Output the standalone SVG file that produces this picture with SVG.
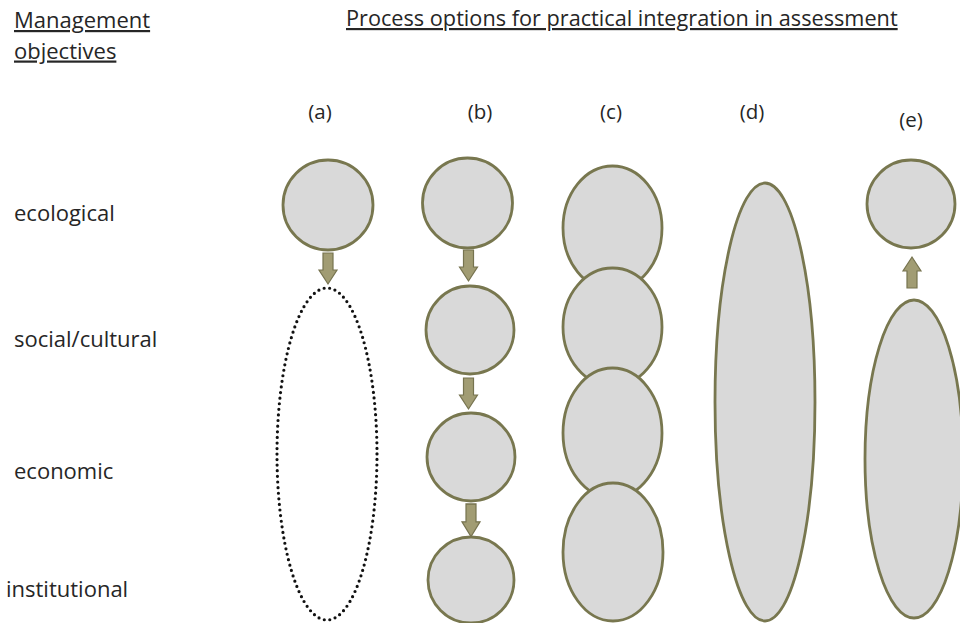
<svg xmlns="http://www.w3.org/2000/svg" width="960" height="623" viewBox="0 0 960 623">
<style>
  text { font-family: "Open Sans", "Liberation Sans", sans-serif; fill: #262626; }
  .hdr { font-size: 22px; text-decoration: underline; }
  .ttl { font-size: 21.7px; text-decoration: underline; }
  .lbl { font-size: 22px; }
  .opt { font-size: 20.5px; text-anchor: middle; }
  .shape { fill: #d9d9d9; stroke: #78774f; stroke-width: 2.8; }
  .dotted { fill: none; stroke: #111; stroke-width: 3.2; stroke-linecap: round; stroke-dasharray: 0 5.6; }
  .arrow { fill: #a19c73; stroke: #76734f; stroke-width: 1.2; }
</style>
<defs>
  <path id="arrDown" d="M-5,0 H5 V17 H9 L0,31 L-9,17 H-5 Z"/>
</defs>
<rect width="960" height="623" fill="#ffffff"/>

<g id="headers">
  <text class="hdr" x="14" y="28">Management</text>
  <text class="hdr" x="14" y="58.5">objectives</text>
  <text class="ttl" x="346" y="26">Process options for practical integration in assessment</text>
</g>

<g id="options">
  <text class="opt" x="320" y="119">(a)</text>
  <text class="opt" x="480" y="119">(b)</text>
  <text class="opt" x="611" y="119">(c)</text>
  <text class="opt" x="752" y="119">(d)</text>
  <text class="opt" x="911" y="127">(e)</text>
</g>

<g id="rows">
  <text class="lbl" x="14" y="221">ecological</text>
  <text class="lbl" x="14" y="347">social/cultural</text>
  <text class="lbl" x="14" y="479">economic</text>
  <text class="lbl" x="6" y="597">institutional</text>
</g>

<g id="option-a">
  <g id="a-eco"><circle class="shape" cx="328" cy="205" r="45"/></g>
  <g id="a-rest"><ellipse class="dotted" cx="327" cy="454" rx="50" ry="166"/></g>
</g>

<g id="option-b">
  <g id="b-eco"><circle class="shape" cx="467.5" cy="203" r="45"/></g>
  <g id="b-soc"><circle class="shape" cx="470" cy="330" r="44"/></g>
  <g id="b-econ"><circle class="shape" cx="471" cy="457" r="44"/></g>
  <g id="b-inst"><circle class="shape" cx="471" cy="580" r="43"/></g>
</g>

<g id="option-c">
  <g id="c-eco"><ellipse class="shape" cx="612.5" cy="228" rx="49.5" ry="62"/></g>
  <g id="c-soc"><ellipse class="shape" cx="612.5" cy="327" rx="49.5" ry="59"/></g>
  <g id="c-econ"><ellipse class="shape" cx="612.5" cy="433" rx="49.5" ry="65"/></g>
  <g id="c-inst"><ellipse class="shape" cx="613" cy="552" rx="50" ry="69"/></g>
</g>

<g id="option-d">
  <g id="d-all"><ellipse class="shape" cx="765" cy="402" rx="50" ry="219"/></g>
</g>

<g id="option-e">
  <g id="e-eco"><circle class="shape" cx="911" cy="204" r="44"/></g>
  <g id="e-rest"><ellipse class="shape" cx="914" cy="459" rx="49" ry="159"/></g>
</g>

<g id="connectors">
  <use href="#arrDown" class="arrow" transform="translate(328,253)"/>
  <use href="#arrDown" class="arrow" transform="translate(468.5,250)"/>
  <use href="#arrDown" class="arrow" transform="translate(468.5,378)"/>
  <use href="#arrDown" class="arrow" transform="translate(471,504) scale(1,1.05)"/>
  <use href="#arrDown" class="arrow" transform="translate(912,288) scale(1,-1)"/>
</g>
</svg>
